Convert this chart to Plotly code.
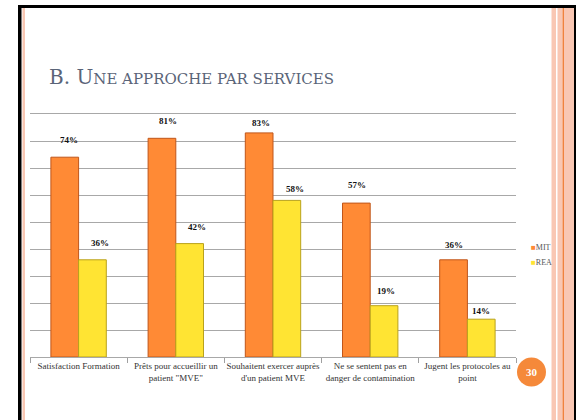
import plotly.graph_objects as go

# ---- data ----
categories = [
    "Satisfaction Formation",
    "Prêts pour accueillir un<br>patient \"MVE\"",
    "Souhaitent exercer auprès<br>d'un patient MVE",
    "Ne se sentent pas en<br>danger de contamination",
    "Jugent les protocoles au<br>point",
]
mit_values = [74, 81, 83, 57, 36]
rea_values = [36, 42, 58, 19, 14]
series_names = ["MIT", "REA"]
title_text = "B. U<span style='font-size:15px'>NE APPROCHE PAR SERVICES</span>"
page_number = "30"

# ---- styles ----
W, H = 576, 420
MIT_FILL, MIT_LINE = "#FF8A35", "#C0561A"
REA_FILL, REA_LINE = "#FFE433", "#B9A21C"
PINK = "#F9C7B3"
SERIF = "Liberation Serif, DejaVu Serif, serif"
TITLE_FONT = "DejaVu Serif, serif"
mit_label_shift = [(4, 17), (6, 17), (2, 10), (1, 18), (0, 15)]
rea_label_shift = [(8, 17), (7, 17), (8, 11), (2, 15), (0, 8)]


def px(x):
    return x / W


def py(y):
    return 1 - y / H


fig = go.Figure()
fig.add_trace(go.Bar(x=categories, y=mit_values, name=series_names[0],
                     marker=dict(color=MIT_FILL, line=dict(color=MIT_LINE, width=1)),
                     showlegend=False))
fig.add_trace(go.Bar(x=categories, y=rea_values, name=series_names[1],
                     marker=dict(color=REA_FILL, line=dict(color=REA_LINE, width=1)),
                     showlegend=False))

annotations = []
for i, c in enumerate(categories):
    for vals, shifts, off in ((mit_values, mit_label_shift, -0.5), (rea_values, rea_label_shift, 0.5)):
        annotations.append(dict(
            x=c, y=vals[i], xref="x", yref="y", text=f"<b>{vals[i]}%</b>",
            showarrow=False, xanchor="center", yanchor="middle",
            xshift=off * 27.7 + shifts[i][0], yshift=shifts[i][1],
            font=dict(family=SERIF, size=9, color="#111111")))

# title
annotations.append(dict(x=px(47), y=py(77), xref="paper", yref="paper", text=title_text,
                        showarrow=False, xanchor="left", yanchor="middle",
                        font=dict(family=TITLE_FONT, size=20, color="#5A6478")))
# legend
for k, (nm, col) in enumerate(zip(series_names, [MIT_FILL, REA_FILL])):
    annotations.append(dict(x=px(529), y=py(247.5 + 14.5 * k), xref="paper", yref="paper",
                            text=f"<span style='color:{col}'>■</span>{nm}",
                            showarrow=False, xanchor="left", yanchor="middle",
                            font=dict(family=SERIF, size=8, color="#555555")))
# page number
annotations.append(dict(x=px(531.5), y=py(372), xref="paper", yref="paper",
                        text=f"<b>{page_number}</b>", showarrow=False,
                        xanchor="center", yanchor="middle",
                        font=dict(family=SERIF, size=11, color="white")))

shapes = [
    # right decorative stripes
    dict(type="rect", xref="paper", yref="paper", x0=px(551.5), x1=px(556), y0=0, y1=py(7),
         fillcolor=PINK, line_width=0, layer="above"),
    dict(type="rect", xref="paper", yref="paper", x0=px(557.5), x1=px(562.5), y0=0, y1=py(7),
         fillcolor=PINK, line_width=0, layer="above"),
    dict(type="rect", xref="paper", yref="paper", x0=px(562.5), x1=px(564), y0=0, y1=py(7),
         fillcolor="#F0823E", line_width=0, layer="above"),
    dict(type="rect", xref="paper", yref="paper", x0=px(564), x1=px(574), y0=0, y1=py(7),
         fillcolor=PINK, line_width=0, layer="above"),
    # left pink line
    dict(type="rect", xref="paper", yref="paper", x0=px(22.5), x1=px(25), y0=0, y1=py(8),
         fillcolor=PINK, line_width=0, layer="above"),
    # black frame
    dict(type="rect", xref="paper", yref="paper", x0=px(18), x1=px(21.5), y0=0, y1=py(5),
         fillcolor="#000000", line_width=0, layer="above"),
    dict(type="rect", xref="paper", yref="paper", x0=px(18), x1=px(576), y0=py(8), y1=py(5),
         fillcolor="#000000", line_width=0, layer="above"),
    dict(type="rect", xref="paper", yref="paper", x0=px(574), x1=px(576), y0=0, y1=py(5),
         fillcolor="#000000", line_width=0, layer="above"),
    # page circle
    dict(type="circle", xref="paper", yref="paper", x0=px(517), x1=px(546), y0=py(386.5), y1=py(357.5),
         fillcolor="#F5893A", line_width=0),
]

fig.update_layout(
    width=W, height=H, margin=dict(l=0, r=0, t=0, b=0),
    paper_bgcolor="white", plot_bgcolor="white",
    barmode="group", bargap=0.43, bargroupgap=0,
    showlegend=False,
    annotations=annotations, shapes=shapes,
    xaxis=dict(domain=[px(30), px(516)], showline=True, mirror=True, linecolor="#A8A8A8", linewidth=1,
               ticks="outside", tickson="boundaries", ticklen=5, tickcolor="#A0A0A0",
               tickfont=dict(family=SERIF, size=9, color="#333333"), tickangle=0,
               showgrid=False),
    yaxis=dict(domain=[py(357), py(114)], range=[0, 90], dtick=10, showticklabels=False,
               showgrid=True, gridcolor="#A8A8A8", gridwidth=1, zeroline=False, ticks=""),
)
fig.write_html("out.html", config={"displayModeBar": False},
               post_script="document.body.style.margin='0px';document.body.style.overflow='hidden';")
